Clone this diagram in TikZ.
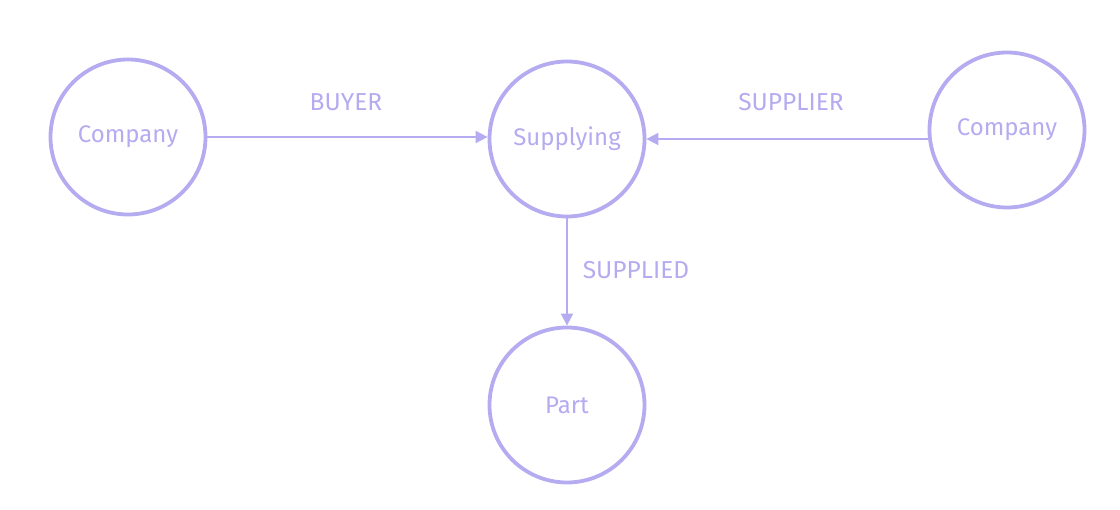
\documentclass[tikz,border=0pt]{standalone}
\usepackage{fontspec}
\setmainfont{Fira Sans}
\usetikzlibrary{arrows.meta}
\definecolor{lav}{HTML}{B4ABF0}
\tikzset{
  ent/.style={circle, draw=lav, line width=3.8pt, minimum size=155pt, inner sep=0pt,
    text=lav, font=\fontsize{24}{28}\selectfont},
  edge/.style={draw=lav, line width=1.8pt, -{Triangle[length=12pt,width=12pt]}},
  lbl/.style={text=lav, font=\fontsize{24.5}{28}\selectfont}
}
\begin{document}
\begin{tikzpicture}[x=1pt,y=-1pt]
\useasboundingbox (0,0) rectangle (1120,510);
\node[ent] (c1) at (128,137) {Company};
\node[ent] (s) at (567,139) {Supplying};
\node[ent] (c2) at (1007,130) {Company};
\node[ent] (p) at (567,405) {Part};
\draw[edge] (c1.east) -- (c1.east -| s.west);
\draw[edge] (c2.west |- s.east) -- (s.east);
\draw[edge] (s.south) -- (p.north);
\node[lbl] (l1) at (346,102) {BUYER};
\node[lbl] (l2) at (791,102) {SUPPLIER};
\node[lbl] (l3) at (636,270) {SUPPLIED};
\end{tikzpicture}
\end{document}
